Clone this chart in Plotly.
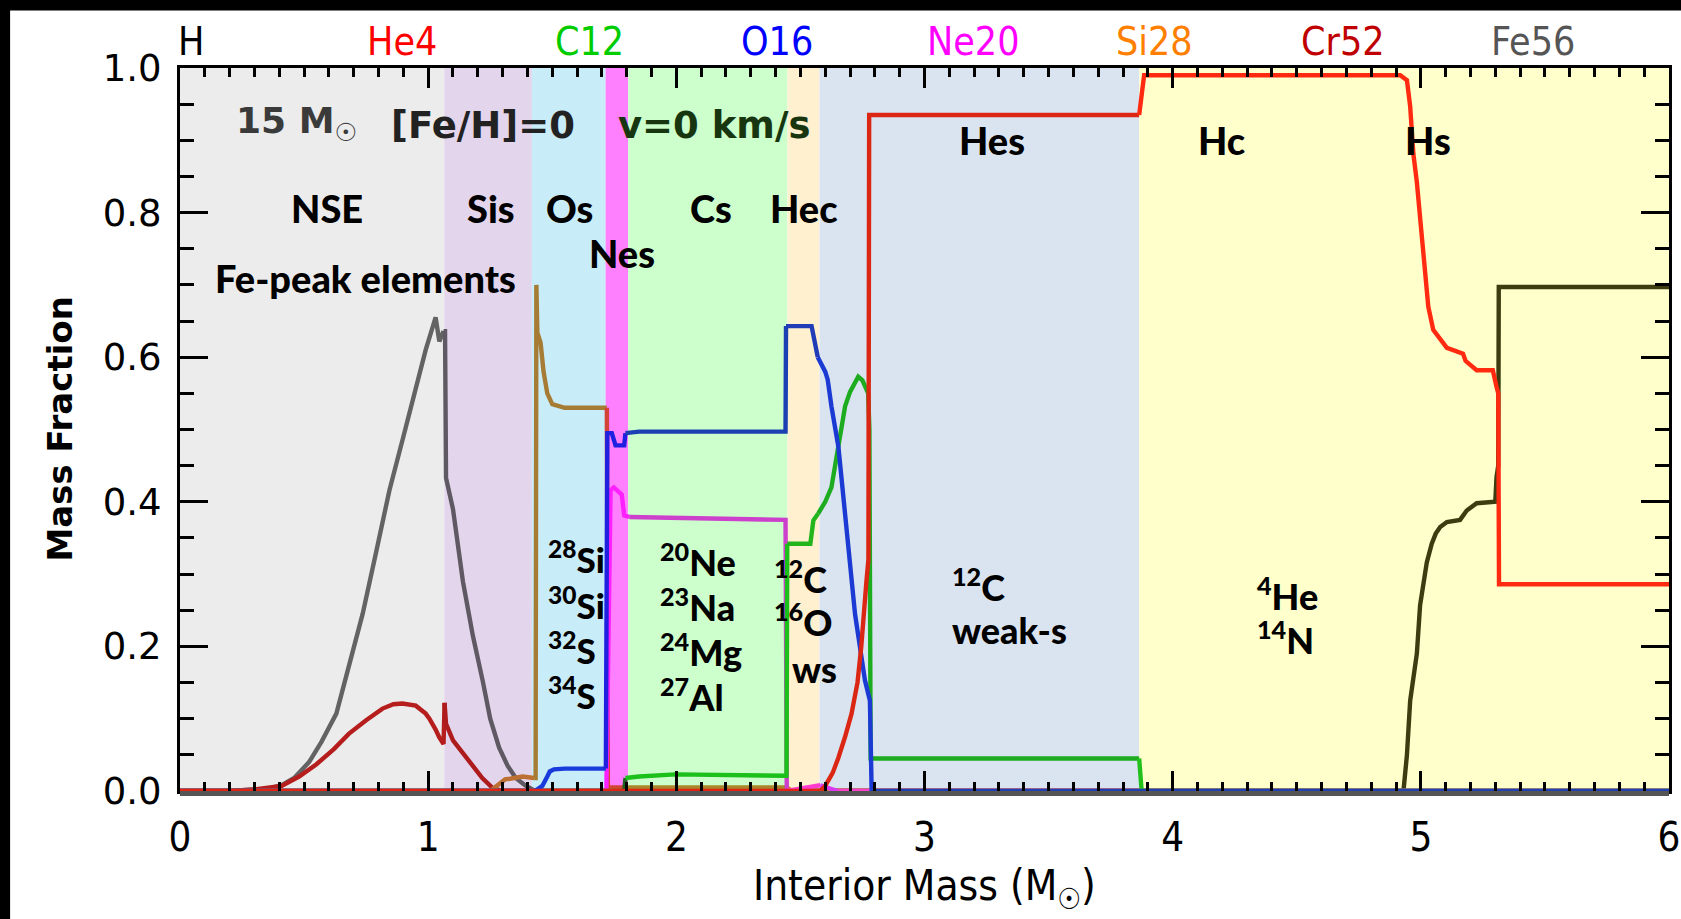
import plotly.graph_objects as go

# ---------------- data ----------------
band_names = ["NSE", "Sis", "Os", "Nes", "Cs", "Hec", "Hes", "H"]
band_x0 = [0.0, 1.065, 1.418, 1.715, 1.806, 2.448, 2.577, 3.865]
band_x1 = [1.065, 1.418, 1.715, 1.806, 2.448, 2.577, 3.865, 6.0]
band_colors = ["#ececec", "#e3d5ec", "#c9ecf9", "#ff80ff", "#ccffcc", "#fff0d0", "#dae4f0", "#ffffcc"]

top_labels = ["H", "He4", "C12", "O16", "Ne20", "Si28", "Cr52", "Fe56"]
top_label_colors = ["#000000", "#ff0000", "#00cc00", "#0000ff", "#ff00ff", "#ff8000", "#c00000", "#555555"]

fe56_x = [0, 0.2, 0.3, 0.35, 0.41, 0.46, 0.52, 0.57, 0.63, 0.68, 0.736, 0.79, 0.844, 0.9, 0.951, 0.99, 1.03,
          1.045, 1.062, 1.068, 1.072, 1.1, 1.14, 1.18, 1.22, 1.25, 1.286, 1.32, 1.353, 1.39, 1.43, 1.44, 6.0]
fe56_y = [0, 0.0, 0.002, 0.003, 0.008, 0.018, 0.04, 0.068, 0.107, 0.17, 0.245, 0.33, 0.416, 0.49, 0.56, 0.61, 0.655,
          0.622, 0.636, 0.636, 0.433, 0.39, 0.29, 0.215, 0.152, 0.1, 0.06, 0.035, 0.018, 0.008, 0.0, 0.0, 0.0]

cr52_x = [0, 0.2, 0.3, 0.41, 0.48, 0.55, 0.62, 0.68, 0.75, 0.816, 0.86, 0.896, 0.95, 0.99, 1.005, 1.018, 1.03,
          1.045, 1.062, 1.066, 1.072, 1.1, 1.152, 1.19, 1.218, 1.26, 1.3, 6.0]
cr52_y = [0, 0.0, 0.002, 0.007, 0.02, 0.037, 0.058, 0.079, 0.098, 0.114, 0.12, 0.121, 0.118, 0.107, 0.1, 0.093, 0.085,
          0.074, 0.065, 0.122, 0.093, 0.07, 0.046, 0.03, 0.018, 0.004, 0.0, 0.0]

si28_x = [0, 1.25, 1.286, 1.31, 1.33, 1.38, 1.427, 1.433, 1.436, 1.44, 1.453, 1.465, 1.48, 1.5, 1.55, 1.72,
          1.724, 1.80, 2.45, 2.46, 6.0]
si28_y = [0, 0.0, 0.01, 0.016, 0.017, 0.02, 0.018, 0.018, 0.70, 0.634, 0.62, 0.58, 0.55, 0.535, 0.53, 0.53,
          0.005, 0.005, 0.005, 0.0, 0.0]

o16_x = [0, 1.43, 1.46, 1.48, 1.49, 1.507, 1.55, 1.716, 1.722, 1.74, 1.755, 1.79, 1.795, 1.85, 2.44, 2.442,
         2.545, 2.57, 2.6, 2.61, 2.625, 2.653, 2.693, 2.72, 2.76, 2.78, 2.787, 6.0]
o16_y = [0, 0.0, 0.007, 0.02, 0.027, 0.03, 0.031, 0.031, 0.495, 0.495, 0.478, 0.478, 0.495, 0.497, 0.497, 0.643,
         0.643, 0.60, 0.58, 0.569, 0.532, 0.476, 0.337, 0.245, 0.153, 0.125, 0.0, 0.0]

ne20_x = [0, 1.718, 1.728, 1.735, 1.748, 1.78, 1.79, 1.81, 2.2, 2.43, 2.44, 2.445, 2.55, 2.58, 2.62, 2.65, 6.0]
ne20_y = [0, 0.0, 0.3, 0.416, 0.42, 0.41, 0.381, 0.379, 0.377, 0.375, 0.375, 0.0, 0.006, 0.008, 0.004, 0.0, 0.0]

c12_x = [0, 1.79, 1.795, 1.85, 1.996, 2.2, 2.43, 2.444, 2.447, 2.54, 2.552, 2.572, 2.6, 2.625, 2.653, 2.68, 2.7,
         2.72, 2.733, 2.75, 2.773, 2.778, 2.783, 3.865, 3.875, 6.0]
c12_y = [0, 0.0, 0.018, 0.02, 0.023, 0.022, 0.021, 0.021, 0.342, 0.342, 0.374, 0.384, 0.4, 0.42, 0.476, 0.532, 0.552,
         0.566, 0.573, 0.568, 0.55, 0.5, 0.045, 0.045, 0.0, 0.0]

he4_x = [0, 2.58, 2.6, 2.63, 2.653, 2.68, 2.706, 2.73, 2.745, 2.766, 2.774, 2.777, 2.785, 3.865, 3.885, 4.917,
         4.944, 4.957, 4.97, 4.984, 4.997, 5.011, 5.03, 5.05, 5.077, 5.105, 5.17, 5.18, 5.225, 5.29, 5.305, 5.312,
         5.315, 6.0]
he4_y = [0, 0.0, 0.007, 0.025, 0.046, 0.075, 0.107, 0.15, 0.199, 0.29, 0.32, 0.935, 0.935, 0.935, 0.99, 0.99,
         0.983, 0.947, 0.881, 0.842, 0.789, 0.73, 0.67, 0.638, 0.625, 0.613, 0.605, 0.595, 0.582, 0.582, 0.559, 0.55,
         0.286, 0.286]

h_x = [0, 4.93, 4.944, 4.957, 4.97, 4.984, 4.997, 5.01, 5.024, 5.044, 5.06, 5.078, 5.105, 5.158, 5.185, 5.225,
       5.3, 5.305, 5.312, 5.314, 6.0]
h_y = [0, 0.0, 0.05, 0.125, 0.16, 0.19, 0.257, 0.29, 0.316, 0.342, 0.356, 0.365, 0.372, 0.375, 0.388, 0.398,
       0.4, 0.434, 0.45, 0.697, 0.697]

# ---------------- styling ----------------
LABEL_FONT = "Lato"
NARROW = "DejaVu Sans Condensed, Liberation Sans, sans-serif"
fig = go.Figure()


def hex2rgb(c):
    c = c.lstrip("#")
    return [int(c[i:i + 2], 16) for i in (0, 2, 4)]


def mult(c1, c2):
    a, b = hex2rgb(c1), hex2rgb(c2)
    return "rgb(%d,%d,%d)" % tuple(round(p * q / 255) for p, q in zip(a, b))


def band_of(xm):
    for i, (a, b) in enumerate(zip(band_x0, band_x1)):
        if a <= xm < b:
            return i
    return len(band_x0) - 1


def add_species(x, y, color, width=4.4):
    n = len(x)
    groups = []
    start = 0
    cur = band_of((x[0] + x[1]) / 2)
    for i in range(1, n - 1):
        b = band_of((x[i] + x[i + 1]) / 2)
        if b != cur:
            groups.append((start, i, cur))
            start, cur = i, b
    groups.append((start, n - 1, cur))
    for s, e, b in groups:
        fig.add_trace(go.Scatter(x=x[s:e + 1], y=y[s:e + 1], mode="lines",
                                 line=dict(color=mult(color, band_colors[b]), width=width),
                                 showlegend=False, hoverinfo="skip"))


# background bands
for x0, x1, col in zip(band_x0, band_x1, band_colors):
    fig.add_shape(type="rect", xref="x", yref="paper", x0=x0, x1=x1, y0=0, y1=1,
                  fillcolor=col, line=dict(width=0), layer="below")

add_species(h_x, h_y, "#3c3c14")
add_species(fe56_x, fe56_y, "#6b6b6b")
add_species(cr52_x, cr52_y, "#c4201f")
add_species(si28_x, si28_y, "#d38636")
add_species(ne20_x, ne20_y, "#ff40ff")
add_species(c12_x, c12_y, "#22c022")
add_species(o16_x, o16_y, "#2040e0")
add_species(he4_x, he4_y, "#ff2a14")

# top element labels
top_label_x = [0.044, 0.894, 1.652, 2.405, 3.195, 3.928, 4.686, 5.451]
for t, c, xx in zip(top_labels, top_label_colors, top_label_x):
    fig.add_annotation(x=xx, y=1.0368, xref="x", yref="paper", text=t, showarrow=False,
                       font=dict(family=NARROW, size=39, color=c),
                       xanchor="center", yanchor="middle")


def label(x, y, text, size=38, xanchor="center"):
    fig.add_annotation(x=x, y=y, xref="x", yref="y", text=text, showarrow=False,
                       font=dict(family=LABEL_FONT, size=size, color="black", weight=900),
                       xanchor=xanchor, yanchor="middle")


label(0.592, 0.807, "NSE")
label(1.253, 0.807, "Sis")
label(1.571, 0.807, "Os")
label(1.781, 0.744, "Nes")
label(2.139, 0.807, "Cs")
label(2.514, 0.807, "Hec")
label(3.27, 0.90, "Hes")
label(4.198, 0.90, "Hc")
label(5.028, 0.90, "Hs")
label(0.748, 0.7096, "Fe-peak elements")

ISO = 36
for yy, t in zip([0.3235, 0.2606, 0.1984, 0.1362],
                 ["<sup>28</sup>Si", "<sup>30</sup>Si", "<sup>32</sup>S", "<sup>34</sup>S"]):
    label(1.4735, yy, t, size=35, xanchor="left")
for yy, t in zip([0.3197, 0.2577, 0.1955, 0.1331],
                 ["<sup>20</sup>Ne", "<sup>23</sup>Na", "<sup>24</sup>Mg", "<sup>27</sup>Al"]):
    label(1.927, yy, t, size=ISO, xanchor="left")
label(2.384, 0.2962, "<sup>12</sup>C", size=ISO, xanchor="left")
label(2.384, 0.2360, "<sup>16</sup>O", size=ISO, xanchor="left")
label(2.458, 0.1686, "ws", size=ISO, xanchor="left")
label(3.102, 0.285, "<sup>12</sup>C", size=ISO, xanchor="left")
label(3.102, 0.222, "weak-s", size=ISO, xanchor="left")
label(4.331, 0.272, "<sup>4</sup>He", size=ISO, xanchor="left")
label(4.331, 0.212, "<sup>14</sup>N", size=ISO, xanchor="left")

# model description text
fig.add_annotation(x=0.216, y=0.923, xref="x", yref="y", text="15 M<sub>☉</sub>", showarrow=False,
                   font=dict(family="DejaVu Sans", size=36, color="#3a3a3a", weight="bold"),
                   xanchor="left", yanchor="middle")
fig.add_annotation(x=0.842, y=0.920, xref="x", yref="y", text="[Fe/H]=0", showarrow=False,
                   font=dict(family="DejaVu Sans", size=37, color="#222222", weight="bold"),
                   xanchor="left", yanchor="middle")
fig.add_annotation(x=1.758, y=0.920, xref="x", yref="y", text="v=0 km/s", showarrow=False,
                   font=dict(family="DejaVu Sans", size=37, color="#17360f", weight="bold"),
                   xanchor="left", yanchor="middle")

# axis titles
fig.add_annotation(x=3.0, y=-0.135, xref="x", yref="paper", text="Interior Mass (M<sub>☉</sub>)", showarrow=False,
                   font=dict(family=NARROW, size=42, color="black"),
                   xanchor="center", yanchor="middle")
fig.add_annotation(x=-0.0812, y=0.5, xref="paper", yref="paper", text="Mass Fraction", showarrow=False,
                   textangle=-90, font=dict(family="DejaVu Sans", size=34, color="black", weight="bold"),
                   xanchor="center", yanchor="middle")

# black border strips (picture frame)
fig.add_shape(type="rect", xref="paper", yref="paper", x0=-0.2, x1=-0.1141, y0=-0.3, y1=1.3,
              fillcolor="black", line=dict(width=0), layer="above")
fig.add_shape(type="rect", xref="paper", yref="paper", x0=-0.2, x1=1.2, y0=1.0796, y1=1.3,
              fillcolor="black", line=dict(width=0), layer="above")
# thick grey bottom edge
fig.add_shape(type="rect", xref="paper", yref="paper", x0=0, x1=1.0, y0=-0.007, y1=0.0,
              fillcolor="#555555", line=dict(width=0), layer="above")

fig.update_layout(
    width=1681, height=919,
    margin=dict(l=180, r=12, t=68, b=128),
    paper_bgcolor="white", plot_bgcolor="white",
    showlegend=False,
    xaxis=dict(range=[0, 6], tickvals=[0, 1, 2, 3, 4, 5, 6], ticks="inside", ticklen=20, tickwidth=3,
               tickcolor="black", minor=dict(dtick=0.1, ticklen=9, tickwidth=3, ticks="inside", tickcolor="black"),
               showline=True, linewidth=3, linecolor="black", mirror="ticks", showgrid=False, zeroline=False,
               tickfont=dict(family=NARROW, size=40, color="black"), ticklabelstandoff=9,
               automargin=False),
    yaxis=dict(range=[0, 1], tickvals=[0, 0.2, 0.4, 0.6, 0.8, 1.0], tickformat=".1f", ticks="inside", ticklen=28,
               tickwidth=3, tickcolor="black",
               minor=dict(dtick=0.05, ticklen=14, tickwidth=3, ticks="inside", tickcolor="black"),
               showline=True, linewidth=3, linecolor="black", mirror="ticks", showgrid=False, zeroline=False,
               tickfont=dict(family="DejaVu Sans", size=37, color="black"), ticklabelstandoff=8,
               automargin=False),
)

fig.write_html("out.html")
